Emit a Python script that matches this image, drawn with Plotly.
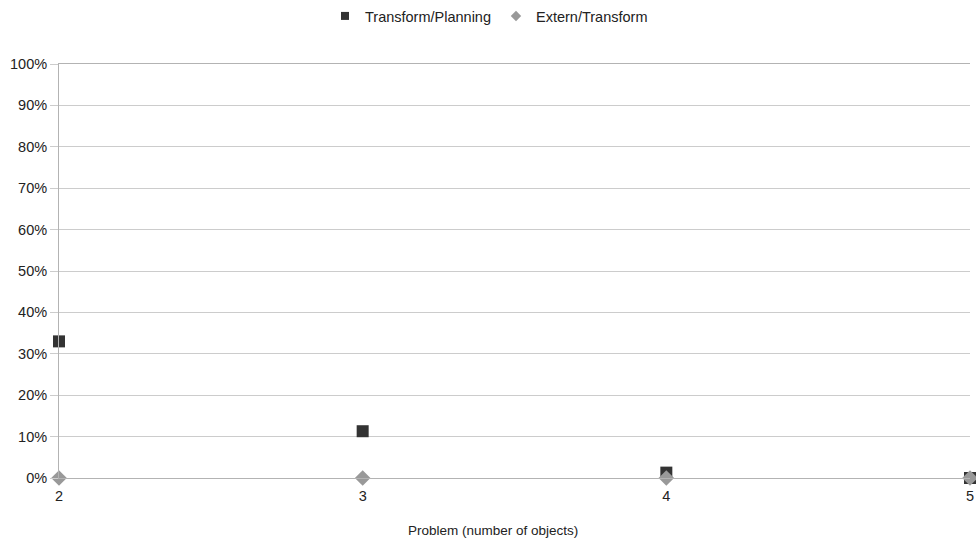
import plotly.graph_objects as go

problems = [2, 3, 4, 5]
transform_planning = [0.33, 0.113, 0.013, 0.0]
extern_transform = [0.0, 0.0, 0.0, 0.0]
y_ticks = [i / 10 for i in range(11)]
y_tick_labels = [f"{i*10}%" for i in range(11)]

DARK = "#333333"
GRAY = "#999999"

fig = go.Figure()
fig.add_trace(go.Scatter(
    x=problems, y=transform_planning, mode="markers", name="Transform/Planning",
    marker=dict(symbol="square", size=12, color=DARK), cliponaxis=False, showlegend=False))
fig.add_trace(go.Scatter(
    x=problems, y=extern_transform, mode="markers", name="Extern/Transform",
    marker=dict(symbol="diamond", size=12, color=GRAY), cliponaxis=False, showlegend=False))
# legend-only entries with small symbols
fig.add_trace(go.Scatter(x=[None], y=[None], mode="markers", name="Transform/Planning",
                         marker=dict(symbol="square", size=8, color=DARK)))
fig.add_trace(go.Scatter(x=[None], y=[None], mode="markers", name="Extern/Transform",
                         marker=dict(symbol="diamond", size=8, color=GRAY)))

fig.update_layout(
    width=976, height=540,
    paper_bgcolor="white", plot_bgcolor="white",
    margin=dict(l=59, r=6, t=64, b=62),
    font=dict(family="Liberation Sans, Arial, sans-serif", size=14.5, color="#222222"),
    legend=dict(orientation="h", x=0.472, xanchor="center", y=1.0, yanchor="top",
                yref="container", font=dict(size=14.5), itemsizing="trace",
                tracegroupgap=0),
    xaxis=dict(range=[2, 5], tickvals=problems, ticktext=[str(p) for p in problems],
               showgrid=False, zeroline=False, showline=True, linecolor="#b3b3b3",
               mirror=True, ticks="", tickfont=dict(size=14.5), automargin=False,
               ticklabelstandoff=5),
    yaxis=dict(range=[0, 1], tickvals=y_ticks, ticktext=y_tick_labels,
               showgrid=True, gridcolor="#cccccc", zeroline=False, automargin=False,
               showline=True, linecolor="#b3b3b3", ticks="outside", ticklen=8,
               tickcolor="#cccccc", tickfont=dict(size=14.5)),
    annotations=[dict(text="Problem (number of objects)", xref="paper", yref="paper",
                      x=0.476, y=-0.126, xanchor="center", yanchor="middle",
                      showarrow=False, font=dict(size=13.5, color="#222222"))],
)

fig.write_html("out.html", post_script="document.body.style.margin='0';",
               config={"displayModeBar": False})
